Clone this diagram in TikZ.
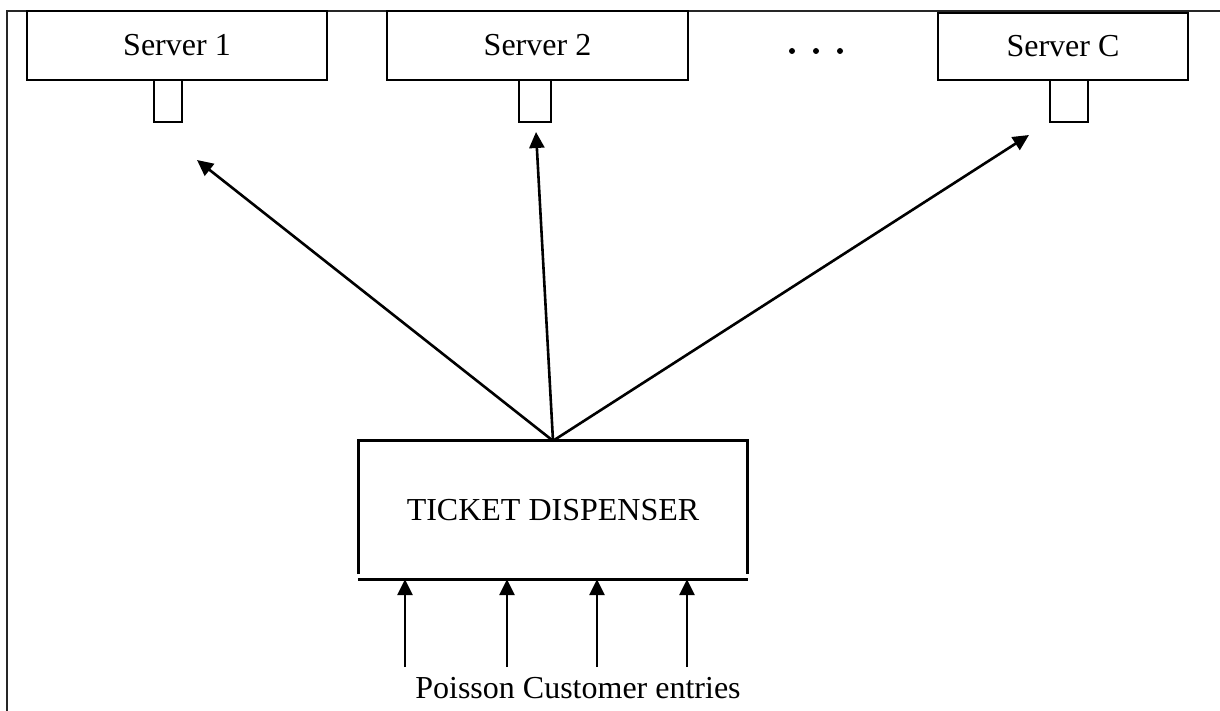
\documentclass[tikz,border=0pt]{standalone}
\usepackage{fontspec}
\setmainfont{Liberation Serif}
\usetikzlibrary{arrows.meta}
\tikzset{
  serverbox/.style={draw, line width=2.8pt, inner sep=0pt, font=\fontsize{32}{38}\selectfont},
  queuebox/.style={draw, line width=2.8pt, inner sep=0pt},
  frameline/.style={line width=1.8pt, black!85},
  flow/.style={line width=2.6pt, -{Triangle[length=16pt,width=15pt]}},
  lbl/.style={font=\fontsize{32}{38}\selectfont, inner sep=0pt},
  dotmark/.style={circle, fill=black, inner sep=0pt, minimum size=6pt}
}
\begin{document}
\begin{tikzpicture}[x=1pt,y=-1pt]
\useasboundingbox (0,0) rectangle (1220,711);
% frame
\draw[frameline] (1220,11) -- (7,11) -- (7,711);
% servers
\node[serverbox, minimum width=300pt, minimum height=69pt] (s1) at (177,45.5) {Server 1};
\node[queuebox, minimum width=28pt, minimum height=42pt] (q1) at (168,101) {};
\node[serverbox, minimum width=301pt, minimum height=69pt] (s2) at (537.5,45.5) {Server 2};
\node[queuebox, minimum width=32pt, minimum height=42pt] (q2) at (535,101) {};
\node[serverbox, minimum width=250pt, minimum height=67pt] (sC) at (1063,46.5) {Server C};
\node[queuebox, minimum width=38pt, minimum height=42pt] (qC) at (1069,101) {};
% dots
\node[dotmark] (d1) at (792,51) {};
\node[dotmark] (d2) at (816,51) {};
\node[dotmark] (d3) at (840,51) {};
% dispenser
\node[lbl, minimum width=388pt, minimum height=138pt] (disp) at (553,510) {TICKET DISPENSER};
\draw[line width=2.8pt] ([yshift=5pt]disp.south west) -- (disp.north west) -- (disp.north east) -- ([yshift=5pt]disp.south east);
\draw[line width=2.8pt] ([xshift=-1pt]disp.south west) -- ([xshift=1pt]disp.south east);
% arrows to servers
\coordinate (t1) at (197,160);
\coordinate (t2) at (536,132);
\coordinate (tC) at (1029,135);
\draw[flow] (disp.north) -- (t1);
\draw[flow] (disp.north) -- (t2);
\draw[flow] (disp.north) -- (tC);
% entries
\coordinate (e1) at (405,667);
\coordinate (e2) at (507,667);
\coordinate (e3) at (597,667);
\coordinate (e4) at (687,667);
\draw[flow] (e1) -- (e1 |- disp.south);
\draw[flow] (e2) -- (e2 |- disp.south);
\draw[flow] (e3) -- (e3 |- disp.south);
\draw[flow] (e4) -- (e4 |- disp.south);
\node[lbl] (entries) at (578,688) {Poisson Customer entries};
\end{tikzpicture}
\end{document}
